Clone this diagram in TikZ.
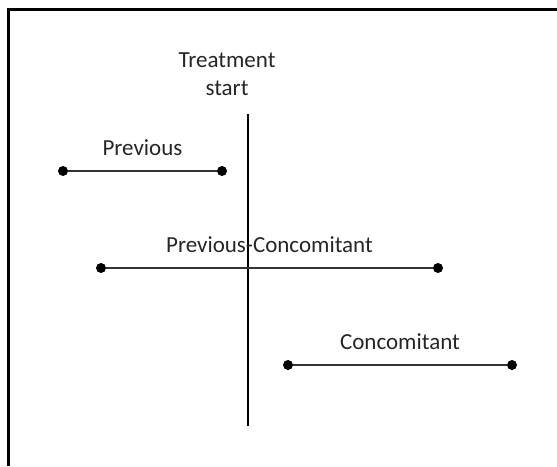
\documentclass[tikz,border=0pt]{standalone}
\usepackage{fontspec}
\setmainfont{Carlito}
\usetikzlibrary{positioning}

\begin{document}
\begin{tikzpicture}[
  x=1pt, y=-1pt,
  dot/.style={circle, fill=black, inner sep=0pt, minimum size=10pt},
  period/.style={line width=2pt, draw=black!80},
  lbl/.style={font=\fontsize{23}{28}\selectfont, text=black!85, inner sep=0pt},
  frame/.style={line width=3pt, draw=black}
]
  \useasboundingbox (0,0) rectangle (557,466);
  \draw[frame] (8,466) -- (8,9) -- (557,9);

  % treatment start marker
  \coordinate (vtop) at (248,114);
  \coordinate (vbot) at (248,426);
  \draw[line width=2.6pt] (vtop) -- (vbot);
  \node[lbl, align=center, anchor=south] (start) at (227,96) {Treatment\\start};

  % previous
  \node[dot] (pl) at (63,171) {};
  \node[dot] (pr) at (222,171) {};
  \draw[period] (pl) -- (pr);
  \path (pl) -- node[lbl, anchor=south, above=15pt] (plab) {Previous} (pr);

  % previous-concomitant
  \node[dot] (pcl) at (101,268) {};
  \node[dot] (pcr) at (438,268) {};
  \draw[period] (pcl) -- (pcr);
  \path (pcl) -- node[lbl, anchor=south, above=15pt] (pclab) {Previous-Concomitant} (pcr);

  % concomitant
  \node[dot] (cl) at (288,365) {};
  \node[dot] (cr) at (512,365) {};
  \draw[period] (cl) -- (cr);
  \path (cl) -- node[lbl, anchor=south, above=15pt] (clab) {Concomitant} (cr);
\end{tikzpicture}
\end{document}
